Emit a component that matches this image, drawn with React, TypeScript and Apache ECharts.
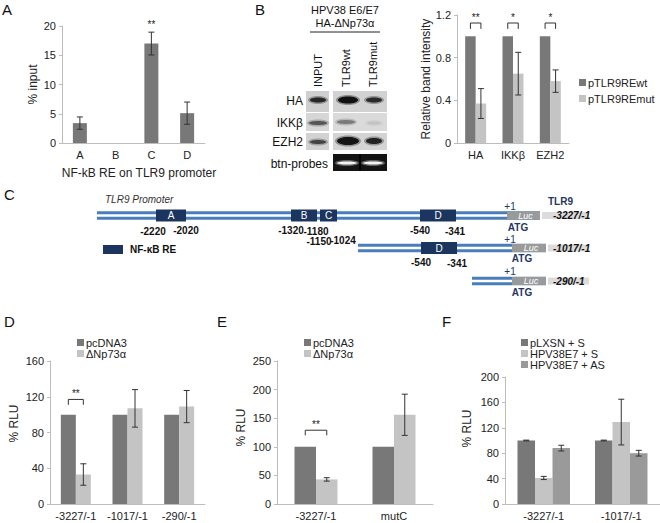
import React, { useEffect, useRef } from 'react';
import * as echarts from 'echarts';

// ---------- Panel A: ChIP % input ----------
const aCategories = ['A', 'B', 'C', 'D'];
const aValues = [3.4, 0, 17, 5.1];
const aErrors = [1.05, 0, 1.95, 1.9];
const aSigLabels = ['', '', '**', ''];
const aSigValues = [0, 0, 20.2, 0];

// ---------- Panel B: relative band intensity ----------
const bCategories = ['HA', 'IKKβ', 'EZH2'];
const bWt = [1, 1, 1];
const bWtErr = [0, 0, 0];
const bMut = [0.37, 0.65, 0.58];
const bMutErr = [0.14, 0.2, 0.105];
const bSigLabels = ['**', '*', '*'];
const bSigTop = [1.125, 1.125, 1.125];
const bSigLeg = [1.07, 1.07, 1.07];

// ---------- Panel D ----------
const dCategories = ['-3227/-1', '-1017/-1', '-290/-1'];
const dPcdna = [100, 100, 100];
const dPcdnaErr = [0, 0, 0];
const dDnp = [33, 107, 109];
const dDnpErr = [12, 21, 18];
const dSigLabels = ['**', '', ''];
const dSigTop = [117, 0, 0];
const dSigLeg = [111, 0, 0];

// ---------- Panel E ----------
const eCategories = ['-3227/-1', 'mutC'];
const ePcdna = [100, 100];
const ePcdnaErr = [0, 0];
const eDnp = [43, 156];
const eDnpErr = [3, 36];
const eSigLabels = ['**', ''];
const eSigTop = [129, 0];
const eSigLeg = [120, 0];

// ---------- Panel F ----------
const fCategories = ['-3227/-1', '-1017/-1'];
const fLxsn = [100, 100];
const fLxsnErr = [0.6, 0.6];
const fE7S = [41, 129];
const fE7SErr = [2.5, 36];
const fE7AS = [88, 80];
const fE7ASErr = [4.5, 4.5];

const DARK = '#787878';
const LIGHT = '#c4c4c4';
const MID = '#9a9a9a';
const AXIS = '#bdbdbd';
const TXT = '#222';
const FONT = '"Liberation Sans", Arial, Helvetica, sans-serif';
const BLUE = '#4a7ebb';
const NAVY = '#1f3864';
const BOX = '#1c355e';

function errSeries(gi: number, vals: number[], errs: number[], k: number, n: number, barW: number) {
  return {
    type: 'custom',
    name: 'err' + gi + '_' + k,
    xAxisIndex: gi,
    yAxisIndex: gi,
    z: 10,
    silent: true,
    data: vals.map((v, i) => [i, v, errs[i]]),
    renderItem: (params: any, api: any) => {
      const e = api.value(2);
      if (!e) return null;
      const i = api.value(0);
      const v = api.value(1);
      const off = (k - (n - 1) / 2) * barW;
      const p1 = api.coord([i, v + e]);
      const p2 = api.coord([i, v - e]);
      const x = p1[0] + off;
      const style = { stroke: '#333', lineWidth: 1 };
      return {
        type: 'group',
        children: [
          { type: 'line', shape: { x1: x, y1: p1[1], x2: x, y2: p2[1] }, style },
          { type: 'line', shape: { x1: x - 3, y1: p1[1], x2: x + 3, y2: p1[1] }, style },
          { type: 'line', shape: { x1: x - 3, y1: p2[1], x2: x + 3, y2: p2[1] }, style },
        ],
      };
    },
  };
}

function bracketSeries(gi: number, labels: string[], tops: number[], legs: number[], barW: number) {
  return {
    type: 'custom',
    name: 'sig' + gi,
    xAxisIndex: gi,
    yAxisIndex: gi,
    z: 11,
    silent: true,
    data: tops.map((t, i) => [i, t, legs[i]]),
    renderItem: (params: any, api: any) => {
      const lab = labels[params.dataIndex];
      if (!lab) return null;
      const i = api.value(0);
      const pt = api.coord([i, api.value(1)]);
      const pl = api.coord([i, api.value(2)]);
      const xl = pt[0] - barW / 2;
      const xr = pt[0] + barW / 2;
      return {
        type: 'group',
        children: [
          {
            type: 'polyline',
            shape: { points: [[xl, pl[1]], [xl, pt[1]], [xr, pt[1]], [xr, pl[1]]] },
            style: { stroke: '#333', lineWidth: 1, fill: 'none' },
          },
          {
            type: 'text',
            x: pt[0],
            y: pt[1] - 1,
            style: { text: lab, fontSize: 10, fontFamily: FONT, fill: '#222', align: 'center', verticalAlign: 'bottom' },
          },
        ],
      };
    },
  };
}

function starSeries(gi: number, labels: string[], vals: number[]) {
  return {
    type: 'custom',
    name: 'star' + gi,
    xAxisIndex: gi,
    yAxisIndex: gi,
    z: 11,
    silent: true,
    data: vals.map((v, i) => [i, v]),
    renderItem: (params: any, api: any) => {
      const lab = labels[params.dataIndex];
      if (!lab) return null;
      const p = api.coord([api.value(0), api.value(1)]);
      return {
        type: 'text',
        x: p[0],
        y: p[1],
        style: { text: lab, fontSize: 10, fontFamily: FONT, fill: '#222', align: 'center', verticalAlign: 'middle' },
      };
    },
  };
}

function catAxis(gi: number, data: string[], extra: any = {}) {
  return {
    type: 'category',
    gridIndex: gi,
    data,
    axisLine: { show: true, lineStyle: { color: AXIS, width: 1 } },
    axisTick: { show: false },
    axisLabel: { fontSize: 11, color: TXT, fontFamily: FONT, margin: 6, interval: 0 },
    ...extra,
  };
}

function valAxis(gi: number, max: number, interval: number, name: string, nameGap: number, pad: number, extra: any = {}) {
  return {
    type: 'value',
    gridIndex: gi,
    min: 0,
    max,
    interval,
    name,
    nameLocation: 'middle',
    nameGap,
    nameTextStyle: { fontSize: 12, color: TXT, fontFamily: FONT, padding: [0, 0, 0, pad] },
    axisLine: { show: true, lineStyle: { color: AXIS, width: 1 } },
    axisTick: { show: true, length: 3, lineStyle: { color: AXIS } },
    splitLine: { show: false },
    axisLabel: { fontSize: 11, color: TXT, fontFamily: FONT, margin: 6 },
    ...extra,
  };
}

function bar(name: string, gi: number, data: number[], color: string, barW: number) {
  return {
    type: 'bar',
    name,
    xAxisIndex: gi,
    yAxisIndex: gi,
    data,
    barWidth: barW,
    barGap: '0%',
    itemStyle: { color },
  };
}

function txt(text: string, x: number, y: number, o: any = {}) {
  return {
    type: 'text',
    x,
    y,
    rotation: o.rotation || 0,
    style: {
      text,
      fontSize: o.size || 10,
      fontWeight: o.weight || 'normal',
      fontStyle: o.style || 'normal',
      fontFamily: FONT,
      fill: o.fill || '#111',
      align: o.align || 'center',
      verticalAlign: o.va || 'middle',
    },
  };
}

function rect(x: number, y: number, w: number, h: number, fill: string) {
  return { type: 'rect', shape: { x, y, width: w, height: h }, style: { fill } };
}

function band(cx: number, cy: number, rx: number, ry: number, fill: string) {
  return [
    { type: 'ellipse', shape: { cx, cy, rx: rx + 2, ry: ry + 1.5 }, style: { fill, opacity: 0.35 } },
    { type: 'ellipse', shape: { cx, cy, rx, ry }, style: { fill } },
  ];
}

function construct(x0: number, x1: number, c: number, boxes: [number, number, string][]) {
  const els: any[] = [
    rect(x0, c - 4.3, x1 - x0, 3, BLUE),
    rect(x0, c + 1.3, x1 - x0, 3, BLUE),
  ];
  boxes.forEach(([a, b, l]) => {
    els.push(rect(a, c - 6, b - a, 12, BOX));
    els.push(txt(l, (a + b) / 2, c, { fill: '#fff', size: 10 }));
  });
  return els;
}

function lucPart(c: number, xs: number, xe: number, label: string) {
  return [
    rect(xs, c - 4, xe - xs, 8, '#9a9a9a'),
    txt('Luc', (xs + xe) / 2 + 2, c, { fill: '#fff', size: 9, style: 'italic' }),
    rect(xe + 2, c - 3.5, 589 - xe - 2, 7, '#dcdcdc'),
    txt(label, 553, c, { align: 'left', weight: 'bold', style: 'italic', size: 10 }),
  ];
}

export default function App() {
  const ref = useRef<HTMLDivElement>(null);
  useEffect(() => {
    if (!ref.current) return;
    const chart = echarts.init(ref.current, undefined, { renderer: 'svg' });

    const graphic: any[] = [
      // panel letters
      txt('A', 2, 2, { size: 15, align: 'left', va: 'top' }),
      txt('B', 255, 2, { size: 15, align: 'left', va: 'top' }),
      txt('C', 4, 187, { size: 15, align: 'left', va: 'top' }),
      txt('D', 4, 314, { size: 15, align: 'left', va: 'top' }),
      txt('E', 217, 314, { size: 15, align: 'left', va: 'top' }),
      txt('F', 442, 314, { size: 15, align: 'left', va: 'top' }),

      // panel B blot header
      txt('HPV38 E6/E7', 345, 10, { size: 11 }),
      txt('HA-ΔNp73α', 345, 23, { size: 11 }),
      { type: 'line', shape: { x1: 310, y1: 32, x2: 380, y2: 32 }, style: { stroke: '#222', lineWidth: 1 } },
      txt('INPUT', 318, 87, { size: 11, align: 'left', rotation: Math.PI / 2 }),
      txt('TLR9wt', 346, 87, { size: 11, align: 'left', rotation: Math.PI / 2 }),
      txt('TLR9mut', 373, 87, { size: 11, align: 'left', rotation: Math.PI / 2 }),
      txt('HA', 303, 101, { size: 12, align: 'right' }),
      txt('IKKβ', 303, 123, { size: 12, align: 'right' }),
      txt('EZH2', 303, 142, { size: 12, align: 'right' }),
      txt('btn-probes', 328, 164, { size: 12, align: 'right' }),

      // blots
      rect(306, 91, 23, 21, '#cfcfcf'),
      rect(333, 91, 54, 21, '#d2d2d2'),
      ...band(318, 100, 8, 2.5, '#262626'),
      ...band(348, 100, 10, 3.5, '#111'),
      ...band(374, 100, 8, 2.5, '#2a2a2a'),
      rect(306, 113, 23, 18, '#d6d6d6'),
      rect(333, 113, 54, 18, '#dadada'),
      ...band(318, 123, 9, 2, '#555'),
      ...band(346, 122, 9, 2, '#7a7a7a'),
      ...band(374, 123, 7, 1.5, '#c2c2c2'),
      rect(306, 133, 23, 17, '#d2d2d2'),
      rect(333, 133, 54, 17, '#d4d4d4'),
      ...band(318, 142, 8, 2, '#444'),
      ...band(348, 141, 11, 4, '#141414'),
      ...band(374, 141, 8, 3, '#222'),
      rect(333, 154, 54, 17, '#141414'),
      { type: 'line', shape: { x1: 360, y1: 154, x2: 360, y2: 171 }, style: { stroke: '#000', lineWidth: 1.5 } },
      ...band(347, 163, 10, 1.5, '#f2f2f2'),
      ...band(373, 163, 10, 1.5, '#f2f2f2'),

      // panel C diagram
      txt('TLR9 Promoter', 105, 199, { align: 'left', style: 'italic', size: 10, fill: '#333' }),
      ...construct(97, 540, 215.5, [[156, 186, 'A'], [291, 317, 'B'], [320, 337, 'C'], [420, 456, 'D']]),
      ...lucPart(215.5, 507, 540, '-3227/-1'),
      txt('+1', 510, 206, { fill: NAVY, size: 10 }),
      txt('TLR9', 548, 201, { fill: NAVY, size: 10, weight: 'bold', align: 'left' }),
      txt('ATG', 518, 227, { fill: NAVY, size: 10, weight: 'bold' }),
      txt('-2220', 153, 231, { weight: 'bold' }),
      txt('-2020', 186, 230, { weight: 'bold' }),
      txt('-1320', 291, 230, { weight: 'bold' }),
      txt('-1180', 316, 231, { weight: 'bold' }),
      txt('-1150', 319, 241, { weight: 'bold' }),
      txt('-1024', 343, 240, { weight: 'bold' }),
      txt('-540', 420, 230, { weight: 'bold' }),
      txt('-341', 455, 231, { weight: 'bold' }),
      rect(103, 245, 20, 9, BOX),
      txt('NF-κB RE', 130, 249.5, { weight: 'bold', align: 'left' }),

      ...construct(358, 546, 248, [[421, 457, 'D']]),
      ...lucPart(248, 512, 546, '-1017/-1'),
      txt('+1', 510, 239, { fill: NAVY, size: 10 }),
      txt('ATG', 522, 258, { fill: NAVY, size: 10, weight: 'bold' }),
      txt('-540', 421, 262, { weight: 'bold' }),
      txt('-341', 457, 263, { weight: 'bold' }),

      ...construct(472, 546, 281, []),
      ...lucPart(281, 512, 546, '-290/-1'),
      txt('+1', 510, 271, { fill: NAVY, size: 10 }),
      txt('ATG', 522, 292, { fill: NAVY, size: 10, weight: 'bold' }),
    ];

    const legendText = { fontSize: 11, color: TXT, fontFamily: FONT, padding: [0, 0, 0, -3] };
    const legendBase = { orient: 'vertical', itemWidth: 7, itemHeight: 7, icon: 'rect', itemGap: 0, textStyle: legendText, selectedMode: false };

    const option: any = {
      animation: false,
      textStyle: { fontFamily: FONT },
      grid: [
        { left: 62, top: 26, width: 143, height: 117 },
        { left: 457, top: 15, width: 112, height: 128 },
        { left: 50, top: 361, width: 155, height: 143 },
        { left: 277, top: 361, width: 156, height: 143 },
        { left: 505, top: 377, width: 155, height: 127 },
      ],
      xAxis: [
        catAxis(0, aCategories, {
          name: 'NF-kB RE on TLR9 promoter',
          nameLocation: 'middle',
          nameGap: 24,
          nameTextStyle: { fontSize: 12, color: TXT, fontFamily: FONT, padding: [0, 0, 0, 11] },
        }),
        catAxis(1, bCategories),
        catAxis(2, dCategories),
        catAxis(3, eCategories),
        catAxis(4, fCategories),
      ],
      yAxis: [
        valAxis(0, 20, 5, '% input', 23, 0),
        valAxis(1, 1.2, 0.4, 'Relative band intensity', 22, 0),
        valAxis(2, 160, 40, '% RLU', 30, 18),
        valAxis(3, 250, 50, '% RLU', 30, 10),
        valAxis(4, 200, 40, '% RLU', 32, 24),
      ],
      legend: [
        { ...legendBase, left: 574, top: 72, itemGap: 5, data: ['pTLR9REwt', 'pTLR9REmut'] },
        { ...legendBase, left: 72, top: 332, data: ['pcDNA3', 'ΔNp73α'] },
        { ...legendBase, left: 299, top: 332, data: ['pcDNA3', 'ΔNp73α'] },
        { ...legendBase, left: 516, top: 332, data: ['pLXSN + S', 'HPV38E7 + S', 'HPV38E7 + AS'] },
      ],
      graphic,
      series: [
        bar('% input', 0, aValues, DARK, 14),
        errSeries(0, aValues, aErrors, 0, 1, 14),
        starSeries(0, aSigLabels, aSigValues),

        bar('pTLR9REwt', 1, bWt, DARK, 10.5),
        bar('pTLR9REmut', 1, bMut, LIGHT, 10.5),
        errSeries(1, bWt, bWtErr, 0, 2, 10.5),
        errSeries(1, bMut, bMutErr, 1, 2, 10.5),
        bracketSeries(1, bSigLabels, bSigTop, bSigLeg, 10.5),

        bar('pcDNA3', 2, dPcdna, DARK, 15),
        bar('ΔNp73α', 2, dDnp, LIGHT, 15),
        errSeries(2, dPcdna, dPcdnaErr, 0, 2, 15),
        errSeries(2, dDnp, dDnpErr, 1, 2, 15),
        bracketSeries(2, dSigLabels, dSigTop, dSigLeg, 15),

        bar('pcDNA3', 3, ePcdna, DARK, 21.5),
        bar('ΔNp73α', 3, eDnp, LIGHT, 21.5),
        errSeries(3, ePcdna, ePcdnaErr, 0, 2, 21.5),
        errSeries(3, eDnp, eDnpErr, 1, 2, 21.5),
        bracketSeries(3, eSigLabels, eSigTop, eSigLeg, 21.5),

        bar('pLXSN + S', 4, fLxsn, DARK, 17.5),
        bar('HPV38E7 + S', 4, fE7S, LIGHT, 17.5),
        bar('HPV38E7 + AS', 4, fE7AS, MID, 17.5),
        errSeries(4, fLxsn, fLxsnErr, 0, 3, 17.5),
        errSeries(4, fE7S, fE7SErr, 1, 3, 17.5),
        errSeries(4, fE7AS, fE7ASErr, 2, 3, 17.5),
      ],
    };
    chart.setOption(option);
    return () => chart.dispose();
  }, []);
  return <div ref={ref} style={{ position: 'absolute', left: 0, top: 0, width: 660, height: 523, background: '#fff' }} />;
}
